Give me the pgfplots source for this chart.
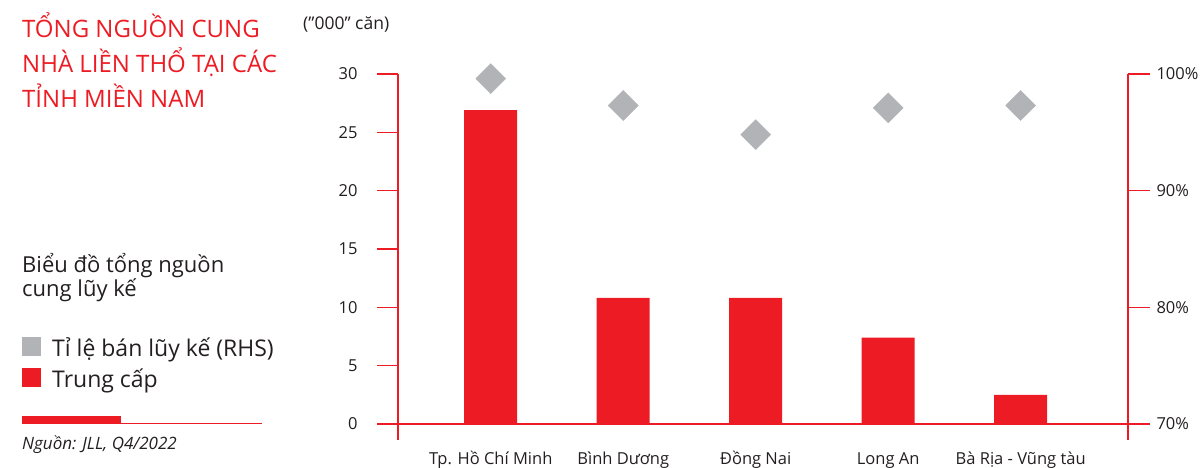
\documentclass[border=0pt]{standalone}
\usepackage{pgfplots}
\pgfplotsset{compat=1.18}
\usepackage{fontspec}
\setmainfont{Open Sans}
\definecolor{jllred}{HTML}{ED1C24}
\definecolor{jllgray}{HTML}{B1B3B6}
\definecolor{txt}{HTML}{231F20}
\begin{document}
\begin{tikzpicture}[x=1pt,y=1pt]
\useasboundingbox (0,0) rectangle (1201,468);
% left axis: bars
\begin{axis}[
  at={(398pt,44pt)}, anchor=south west, scale only axis,
  width=730pt, height=350pt,
  xmin=-0.7, xmax=4.81, ymin=0, ymax=30,
  clip=false,
  axis line style={draw=none},
  xtick={0,1,2,3,4},
  xticklabels={Tp. Hồ Chí Minh, Bình Dương, Đồng Nai, Long An, Bà Rịa - Vũng tàu},
  xtick pos=bottom, x tick style={draw=none},
  xticklabel style={font=\fontsize{16.5}{19}\selectfont, text=txt, anchor=base, yshift=-19pt},
  ytick={0,5,...,30}, ytick pos=left,
  tick align=outside, major tick length=21pt,
  y tick style={jllred, line width=1.2pt},
  yticklabel style={font=\fontsize{16.5}{19}\selectfont, text=txt, anchor=east, xshift=-16pt},
  /pgf/number format/assume math mode=true,
]
\addplot[ybar, bar width=53pt, fill=jllred, draw=none] coordinates {(0,26.9) (1,10.8) (2,10.8) (3,7.4) (4,2.5)};
\end{axis}
% right axis: sales ratio
\begin{axis}[
  at={(398pt,44pt)}, anchor=south west, scale only axis,
  width=730pt, height=350pt,
  xmin=-0.7, xmax=4.81, ymin=70, ymax=100,
  clip=false,
  axis line style={draw=none},
  xtick=\empty,
  ytick={70,80,90,100}, ytick pos=right,
  yticklabel={\pgfmathprintnumber{\tick}\%},
  tick align=outside, major tick length=22pt,
  y tick style={jllred, line width=1.2pt},
  yticklabel style={font=\fontsize{16.5}{19}\selectfont, text=txt, anchor=west, xshift=3pt},
  /pgf/number format/assume math mode=true,
]
\addplot[only marks, color=jllgray, mark=square*, mark size=10.6pt, mark options={rotate=45, fill=jllgray, draw=none}] coordinates {(0,99.6) (1,97.3) (2,94.8) (3,97.1) (4,97.3)};
\end{axis}
% axis lines
\draw[jllred, line width=1.2pt] (398,394) -- (398,28);
\draw[jllred, line width=1.2pt] (1128,394) -- (1128,28);
\draw[jllred, line width=1.2pt] (377,44) -- (1150,44);
% left panel
\node[anchor=base west, inner sep=0, text=jllred, font=\fontsize{24}{28}\selectfont] at (22,430) {TỔNG NGUỒN CUNG};
\node[anchor=base west, inner sep=0, text=jllred, font=\fontsize{24}{28}\selectfont] at (22,395) {NHÀ LIỀN THỔ TẠI CÁC};
\node[anchor=base west, inner sep=0, text=jllred, font=\fontsize{24}{28}\selectfont] at (22,360) {TỈNH MIỀN NAM};
\node[anchor=base west, inner sep=0, text=txt, font=\fontsize{17.5}{21}\selectfont] at (303,438) {(”000” căn)};
\node[anchor=base west, inner sep=0, text=txt, font=\fontsize{22}{26}\selectfont] at (22,195) {Biểu đồ tổng nguồn};
\node[anchor=base west, inner sep=0, text=txt, font=\fontsize{22}{26}\selectfont] at (22,171) {cung lũy kế};
\fill[jllgray] (22,112) rectangle (41,131);
\fill[jllred] (22,81) rectangle (41,100);
\node[anchor=base west, inner sep=0, text=txt, font=\fontsize{23}{27}\selectfont] at (52,111) {Tỉ lệ bán lũy kế (RHS)};
\node[anchor=base west, inner sep=0, text=txt, font=\fontsize{23}{27}\selectfont] at (52,80) {Trung cấp};
\fill[jllred] (22,44) rectangle (121,52);
\draw[jllred, line width=1pt] (121,44.5) -- (262,44.5);
\node[anchor=base west, inner sep=0, text=txt, font=\fontsize{17}{20}\selectfont\itshape] at (22,18) {Nguồn: JLL, Q4/2022};
\end{tikzpicture}
\end{document}
